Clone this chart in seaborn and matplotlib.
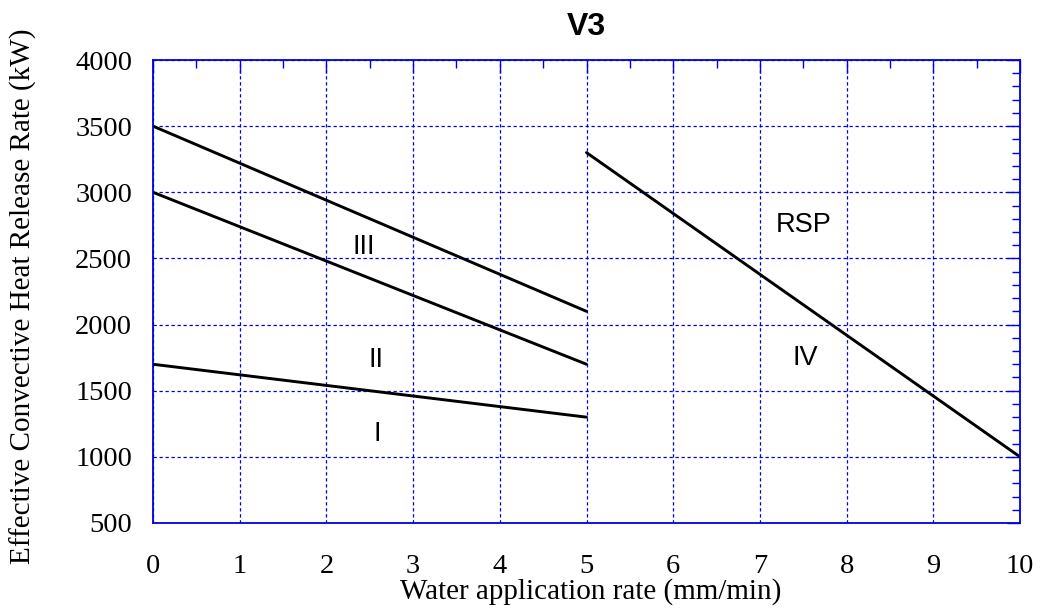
import matplotlib
matplotlib.use("Agg")
import matplotlib.pyplot as plt
import seaborn as sns
import pandas as pd
from matplotlib.ticker import MultipleLocator

# Data
line_names = ["III", "II", "I", "IV"]
x_start = [0, 0, 0, 5]
x_end = [5, 5, 5, 10]
y_start = [3500, 3000, 1700, 3300]
y_end = [2100, 1700, 1300, 1000]

region_labels = ["III", "II", "I", "RSP", "IV"]
label_x = [2.43, 2.57, 2.585, 7.50, 7.52]
label_y = [2533, 1679, 1120, 2700, 1694]

rows = []
for n, xs, xe, ys, ye in zip(line_names, x_start, x_end, y_start, y_end):
    rows.append({"line": n, "x": xs, "y": ys})
    rows.append({"line": n, "x": xe, "y": ye})
df = pd.DataFrame(rows)

sns.set_style("white")
fig = plt.figure(figsize=(10.41, 6.10), dpi=100)
ax = fig.add_axes([153/1041, 1 - 523/610, (1020-153)/1041, (523-60)/610])

sns.lineplot(data=df, x="x", y="y", units="line", estimator=None,
             color="black", linewidth=2.1, ax=ax, legend=False)

ax.set_xlim(0, 10)
ax.set_ylim(500, 4000)
ax.xaxis.set_major_locator(MultipleLocator(1))
ax.xaxis.set_minor_locator(MultipleLocator(0.5))
ax.yaxis.set_major_locator(MultipleLocator(500))
ax.yaxis.set_minor_locator(MultipleLocator(100))

blue = "#0000e0"
for s in ax.spines.values():
    s.set_color(blue)
    s.set_linewidth(1.3)
ax.tick_params(which="both", direction="in", top=True, right=True, color=blue,
               labelcolor="black")
ax.tick_params(which="major", length=9.5, width=1.0)
ax.tick_params(which="minor", length=5.8, width=1.0)
ax.grid(True, which="major", color=blue, linestyle=(0, (2.65, 2.15)), linewidth=0.9)

serif = "Liberation Serif"
for lab in ax.get_xticklabels() + ax.get_yticklabels():
    lab.set_fontfamily(serif)
    lab.set_fontsize(20.5)
ax.tick_params(axis="x", pad=22)
ax.tick_params(axis="y", pad=15)

ax.set_xlabel("Water application rate (mm/min)", fontfamily=serif, fontsize=21,
              color="black")
ax.set_ylabel("Effective Convective Heat Release Rate (kW)", fontfamily=serif,
              fontsize=21, color="black")
ax.xaxis.set_label_coords(0.505, -0.120)
ax.yaxis.set_label_coords(-0.134, 0.49)
ax.set_title("V3", fontfamily="Liberation Sans", fontweight="bold", fontsize=23,
             pad=18, color="black")

for t, x, y in zip(region_labels, label_x, label_y):
    ax.text(x, y, t, fontfamily="Liberation Sans", fontsize=19.5, ha="center",
            va="baseline", color="black")

fig.savefig("out.png", dpi=100)
